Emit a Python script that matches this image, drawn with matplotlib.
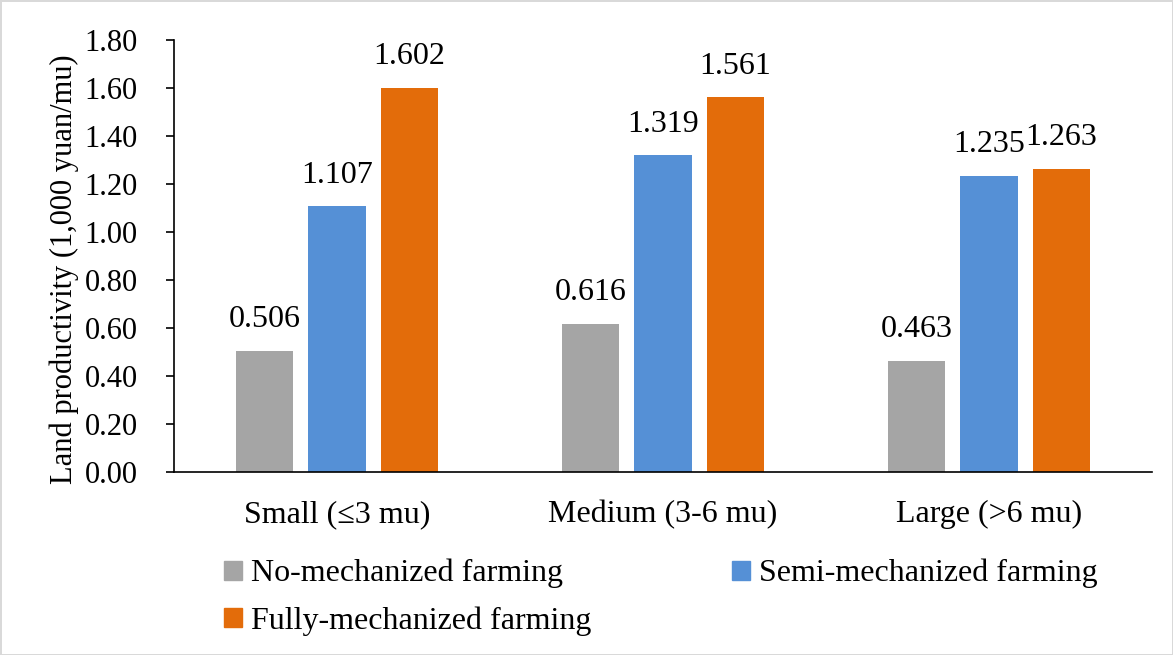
import matplotlib.pyplot as plt
import matplotlib.patches as mpatches
import numpy as np

plt.rcParams['font.family'] = ['Liberation Serif', 'DejaVu Serif']

categories = ["Small (\u22643 mu)", "Medium (3-6 mu)", "Large (>6 mu)"]
series_names = ["No-mechanized farming", "Semi-mechanized farming", "Fully-mechanized farming"]
no_mech = [0.506, 0.616, 0.463]
semi_mech = [1.107, 1.319, 1.235]
fully_mech = [1.602, 1.561, 1.263]
colors = ["#a5a5a5", "#5590d6", "#e36c0a"]

fig = plt.figure(figsize=(11.73, 6.55), dpi=100)
fig.patch.set_edgecolor("#d9d9d9")
fig.patch.set_linewidth(2)
ax = fig.add_axes([174 / 1173, 1 - 472 / 655, (1152 - 174) / 1173, (472 - 40) / 655])

x = np.arange(len(categories))
width = 0.175
step = 0.2215
handles = []
for i, (vals, c) in enumerate(zip([no_mech, semi_mech, fully_mech], colors)):
    bars = ax.bar(x + (i - 1) * step, vals, width, color=c)
    handles.append(mpatches.Patch(color=c))
    for b, v in zip(bars, vals):
        ax.text(b.get_x() + b.get_width() / 2, v + 0.07, f"{v:.3f}",
                ha="center", va="bottom", fontsize=23)

ax.set_xlim(-0.5, 2.5)
ax.set_ylim(0, 1.8)
ax.set_yticks(np.arange(0, 1.81, 0.2))
ax.set_yticklabels([f"{t:.2f}" for t in np.arange(0, 1.81, 0.2)], fontsize=22)
ax.set_xticks(x)
ax.set_xticklabels(categories, fontsize=23)
ax.tick_params(axis="x", length=0, pad=20)
ax.tick_params(axis="y", length=6, width=1.2, pad=20)
for s in ["top", "right"]:
    ax.spines[s].set_visible(False)
ax.spines["left"].set_linewidth(1.2)
ax.spines["bottom"].set_linewidth(1.2)
ax.set_ylabel("Land productivity (1,000 yuan/mu)", fontsize=22)
ax.yaxis.set_label_coords(-0.097, 0.47)

# row-wise order: No, Semi on the first row, Fully below
order = [0, 2, 1]
fig.legend([handles[i] for i in order], [series_names[i] for i in order],
           loc="upper left", bbox_to_anchor=(224 / 1173, 1 - 559 / 655),
           ncol=2, frameon=False, fontsize=23, handlelength=0.55, handleheight=0.55,
           handletextpad=0.3, columnspacing=4.4, labelspacing=0.55, borderpad=0,
           borderaxespad=0)

fig.savefig("out.png", dpi=100)
